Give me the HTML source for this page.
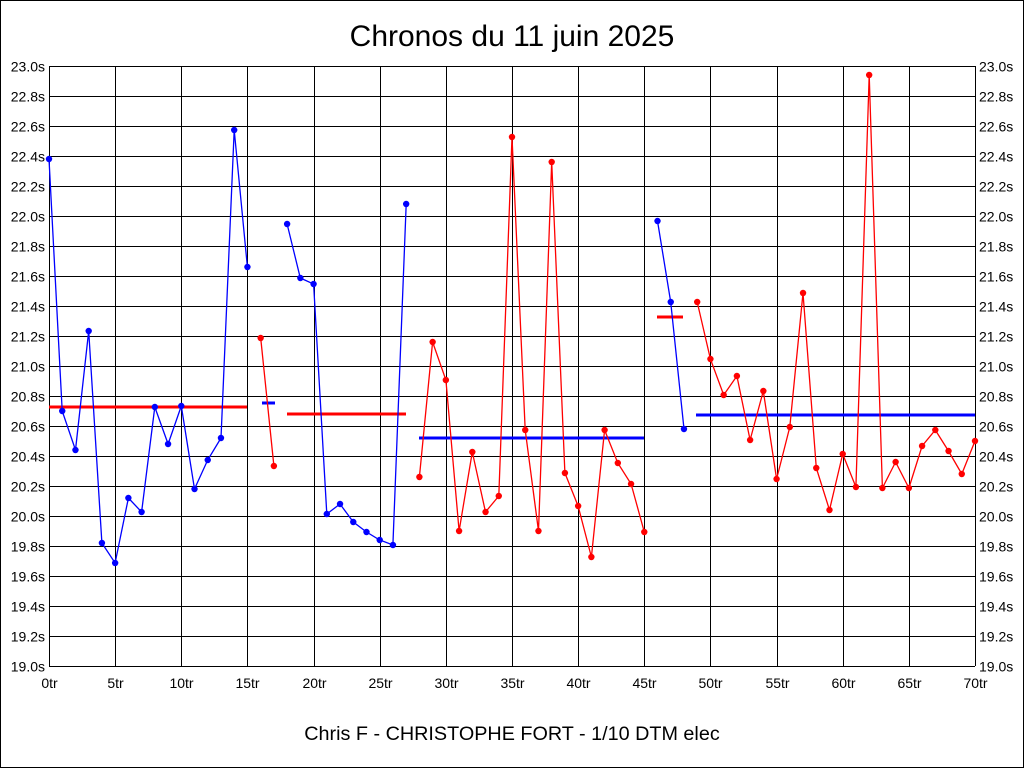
<!DOCTYPE html>
<html><head><meta charset="utf-8"><style>
html,body{margin:0;padding:0;background:#fff}
svg{display:block}
text{font-family:"Liberation Sans",sans-serif}
</style></head><body>
<svg width="1024" height="768" viewBox="0 0 1024 768" xmlns="http://www.w3.org/2000/svg">
<rect x="0.5" y="0.5" width="1023" height="767" fill="#fff" stroke="#000"/>
<text x="512" y="46" font-size="30" text-anchor="middle">Chronos du 11 juin 2025</text>
<text x="512" y="740" font-size="19.8" text-anchor="middle">Chris F - CHRISTOPHE FORT - 1/10 DTM elec</text>
<g id="grid" stroke="#000" stroke-width="1"></g>
<g id="labels" font-size="14"></g>
<g id="data"></g>
<script>
var g=document.getElementById('grid'),L=document.getElementById('labels'),D=document.getElementById('data');
var NS='http://www.w3.org/2000/svg';
function el(p,t,a,tx){var e=document.createElementNS(NS,t);for(var k in a)e.setAttribute(k,a[k]);if(tx)e.textContent=tx;p.appendChild(e);return e;}
var x0=49,x1=975,y0=66,y1=666;
for(var i=0;i<=20;i++){var y=y0+i*30+0.5;el(g,'line',{x1:x0,x2:x1,y1:y,y2:y});
var v=(23-i*0.2).toFixed(1)+'s';el(L,'text',{x:45,y:y+5,'text-anchor':'end'},v);el(L,'text',{x:979,y:y+5},v);}
for(var i=0;i<=14;i++){var x=Math.round(x0+i*(x1-x0)/14)+0.5;el(g,'line',{x1:x,x2:x,y1:y0,y2:y1});
el(L,'text',{x:x,y:688,'text-anchor':'middle'},(i*5)+'tr');}
function X(i){return x0+i*(x1-x0)/70;}
function seg(start,ys,c){var pts=ys.map(function(y,k){return X(start+k).toFixed(1)+','+y}).join(' ');
el(D,'polyline',{points:pts,fill:'none',stroke:c,'stroke-width':1.3});
ys.forEach(function(y,k){el(D,'circle',{cx:X(start+k),cy:y,r:3.2,fill:c});});}
function hl(a,b,y,c){el(D,'line',{x1:a,x2:b,y1:y,y2:y,stroke:c,'stroke-width':3});}
hl(49,247,407,'#f00');hl(287,406,414,'#f00');hl(262,275,403,'#00f');
hl(419,644,438,'#00f');hl(657,683,317,'#f00');hl(696,975,415,'#00f');
seg(0,[159,411,450,331,543,563,498,512,407,444,406,489,460,438,130,267],'#00f');
seg(16,[338,466],'#f00');
seg(18,[224,278,284,514,504,522,532,540,545,204],'#00f');
seg(28,[477,342,380,531,452,512,496,137,430,531,162,473,506,557,430,463,484,532],'#f00');
seg(46,[221,302,429],'#00f');
seg(49,[302,359,395,376,440,391,479,427,293,468,510,454,487,75,488,462,488,446,430,451,474,441],'#f00');
</script>
</svg>
</body></html>
